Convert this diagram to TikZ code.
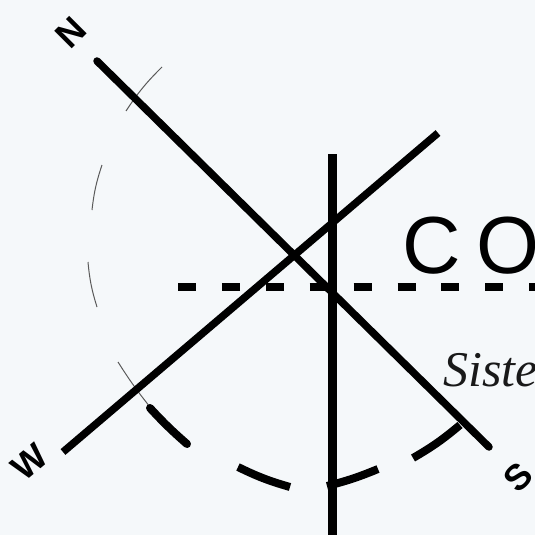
\documentclass[tikz,border=0pt]{standalone}
\usepackage{fontspec}
\setmainfont{Liberation Serif}
\newfontfamily\labelfont{Liberation Sans}
\definecolor{bgcol}{RGB}{245,248,250}
\definecolor{thincol}{RGB}{90,90,90}
\tikzset{
  axisline/.style={line width=7.5pt, black},
  thinarc/.style={line width=1pt, thincol},
  thickarc/.style={line width=8pt, black},
  dir/.style={font=\labelfont\bfseries\fontsize{36}{36}\selectfont, inner sep=0pt},
}
\begin{document}
\begin{tikzpicture}[x=1pt,y=-1pt]
\useasboundingbox (0,0) rectangle (535,535);
\clip (0,0) rectangle (535,535);
\fill[bgcol] (-5,-5) rectangle (540,540);

% coordinates
\coordinate (Nend) at (97,61);
\coordinate (Send) at (489,447);
\coordinate (Wend) at (63,452);
\coordinate (Eend) at (438,133);
\coordinate (Vtop) at (332.5,154);
\coordinate (Vbot) at (332.5,545);
\coordinate (Hl) at (178,287);
\coordinate (Hr) at (545,287);

% horizontal dashed line
\draw[line width=8pt, dash pattern=on 18pt off 25.9pt] (Hl) -- (Hr);

% arc dashes
\draw[thinarc] (162,67) to[bend right=6] (126,111);
\draw[thinarc] (102,165) to[bend right=6] (92,210);
\draw[thinarc] (88,262) to[bend right=6] (97,307);
\draw[thinarc] (118,362) to[bend right=3] (150,407);
\draw[thickarc, line cap=round] (150,408) to[bend right=3] (187,444);
\draw[thickarc] (238,467) to[bend right=5] (290,487);
\draw[thickarc] (327,486) to[bend right=4] (378,469);
\draw[thickarc] (413,458) to[bend right=5] (460,425);

% axes
\draw[axisline, line cap=round] (Nend) -- (Send);
\draw[axisline] (Wend) -- (Eend);
\draw[line width=8.5pt] (Vtop) -- (Vbot);

% texts
\node[anchor=base west, inner sep=0pt, font=\labelfont\fontsize{81}{81}\selectfont] (title) at (402,273) {C\kern16pt O};
\node[anchor=base west, inner sep=0pt, font=\fontsize{50}{50}\selectfont\itshape, text=black!90] (sub) at (443,386) {Siste};

\node[dir, rotate=45] (N) at (71,33) {N};
\node[dir, rotate=40] (W) at (30,462) {W};
\node[dir, rotate=45] (S) at (518,477) {S};
\end{tikzpicture}
\end{document}
